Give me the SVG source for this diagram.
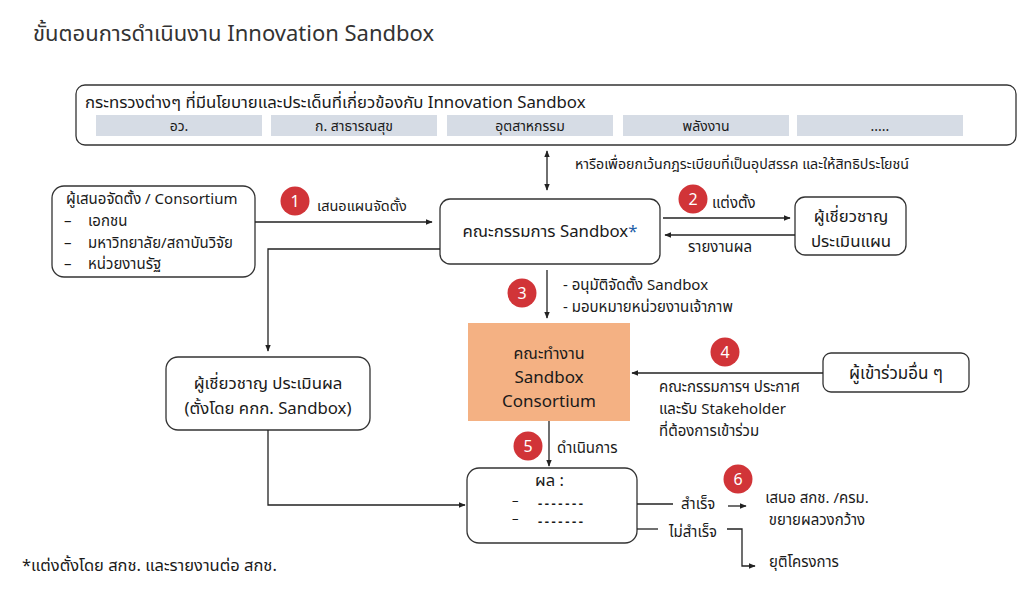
<svg xmlns="http://www.w3.org/2000/svg" width="1024" height="590" viewBox="0 0 1024 590">
<defs>
<marker id="ah" viewBox="0 0 10 10" refX="9" refY="5" markerWidth="7" markerHeight="7" markerUnits="userSpaceOnUse" orient="auto-start-reverse"><path d="M0,1 L10,5 L0,9 z" fill="#222"/></marker>
<style>
text{font-family:"Noto Sans Thai","Noto Sans","Liberation Sans",sans-serif;fill:#1a1a1a;font-size:15px}
.box{fill:#fff;stroke:#333;stroke-width:1.3}
.bar{fill:#d6dce5}
.ln{fill:none;stroke:#222;stroke-width:1.3}
.arr{fill:none;stroke:#222;stroke-width:1.3;marker-end:url(#ah)}
.num circle{fill:#d13438}
.num text{fill:#fff;font-size:16px;text-anchor:middle}
.c{text-anchor:middle}
.big{font-size:17px}
.mid{font-size:16.8px}
.dash{font-weight:bold;letter-spacing:2.6px}
</style>
</defs>
<rect width="1024" height="590" fill="#fff"/>
<text x="33" y="41" style="font-size:22px;fill:#333">ขั้นตอนการดำเนินงาน Innovation Sandbox</text>

<g id="ministries">
<rect class="box" x="76" y="85" width="940" height="60" rx="9"/>
<text x="85" y="108" class="mid">กระทรวงต่างๆ ที่มีนโยบายและประเด็นที่เกี่ยวข้องกับ Innovation Sandbox</text>
<rect class="bar" x="96" y="115" width="166" height="21"/>
<rect class="bar" x="271" y="115" width="166" height="21"/>
<rect class="bar" x="447" y="115" width="166" height="21"/>
<rect class="bar" x="623" y="115" width="166" height="21"/>
<rect class="bar" x="797" y="115" width="166" height="21"/>
<text class="c" x="179" y="131" style="font-size:14px">อว.</text>
<text class="c" x="354" y="131" style="font-size:14px">ก. สาธารณสุข</text>
<text class="c" x="530" y="131" style="font-size:14px">อุตสาหกรรม</text>
<text class="c" x="706" y="131" style="font-size:14px">พลังงาน</text>
<text class="c" x="880" y="131" style="font-size:14px">.....</text>
</g>

<g id="proposer">
<rect class="box" x="52" y="186" width="203" height="91" rx="12"/>
<text x="66" y="204">ผู้เสนอจัดตั้ง / Consortium</text>
<text x="64" y="226">–</text><text x="88" y="226">เอกชน</text>
<text x="64" y="248">–</text><text x="88" y="248">มหาวิทยาลัย/สถาบันวิจัย</text>
<text x="64" y="269">–</text><text x="88" y="269">หน่วยงานรัฐ</text>
</g>

<g id="committee">
<rect class="box" x="440" y="199" width="220" height="65" rx="10"/>
<text class="c mid" x="550" y="237">คณะกรรมการ Sandbox<tspan style="fill:#1f5fa8">*</tspan></text>
</g>

<g id="expert-plan">
<rect class="box" x="795" y="197" width="111" height="58" rx="10"/>
<text class="c mid" x="851" y="222">ผู้เชี่ยวชาญ</text>
<text class="c mid" x="851" y="247">ประเมินแผน</text>
</g>

<g id="expert-eval">
<rect class="box" x="166" y="357" width="204" height="73" rx="12"/>
<text class="c mid" x="268" y="389">ผู้เชี่ยวชาญ ประเมินผล</text>
<text class="c mid" x="268" y="414">(ตั้งโดย คกก. Sandbox)</text>
</g>

<g id="working-group">
<rect x="468" y="323" width="162" height="98" fill="#f4b183"/>
<text class="c" x="549" y="359" style="font-size:16px">คณะทำงาน</text>
<text class="c big" x="549" y="383">Sandbox</text>
<text class="c big" x="549" y="407">Consortium</text>
</g>

<g id="others">
<rect class="box" x="823" y="353" width="146" height="39" rx="8"/>
<text class="c big" x="896" y="379">ผู้เข้าร่วมอื่น ๆ</text>
</g>

<g id="result">
<rect class="box" x="467" y="468" width="170" height="75" rx="12"/>
<text x="535" y="486" style="font-size:16.5px">ผล :</text>
<text x="512" y="505" style="font-size:13px">–<tspan class="dash" x="538" dy="3">-------</tspan></text>
<text x="512" y="523" style="font-size:13px">–<tspan class="dash" x="538" dy="3">-------</tspan></text>
</g>

<g id="connectors">
<path class="arr" d="M547,151 V190" style="marker-start:url(#ah)"/>
<path class="arr" d="M255,222 H432"/>
<path class="arr" d="M663,218 H790"/>
<path class="arr" d="M795,235 H665"/>
<path class="arr" d="M440,249 H268 V351"/>
<path class="arr" d="M547,270 V318"/>
<path class="arr" d="M823,373 H632"/>
<path class="arr" d="M549,421 V466"/>
<path class="arr" d="M268,430 V505 H465"/>
<path class="ln" d="M637,504 H673"/>
<path class="arr" d="M728,506 H746"/>
<path class="ln" d="M637,529 H658"/>
<path class="arr" d="M727,529 H742 V566 H755"/>
</g>

<g id="labels">
<text x="575" y="169" style="font-size:14.2px">หารือเพื่อยกเว้นกฎระเบียบที่เป็นอุปสรรค และให้สิทธิประโยชน์</text>
<text x="317" y="211" style="font-size:14.5px">เสนอแผนจัดตั้ง</text>
<text x="712" y="208">แต่งตั้ง</text>
<text x="688" y="252">รายงานผล</text>
<text x="563" y="290">- อนุมัติจัดตั้ง Sandbox</text>
<text x="563" y="312">- มอบหมายหน่วยงานเจ้าภาพ</text>
<text x="659" y="392">คณะกรรมการฯ ประกาศ</text>
<text x="659" y="414">และรับ Stakeholder</text>
<text x="659" y="436">ที่ต้องการเข้าร่วม</text>
<text x="557" y="453">ดำเนินการ</text>
<text x="681" y="509">สำเร็จ</text>
<text x="669" y="537">ไม่สำเร็จ</text>
<text class="c" x="817" y="503">เสนอ สกช. /ครม.</text>
<text class="c" x="817" y="525">ขยายผลวงกว้าง</text>
<text x="769" y="567">ยุติโครงการ</text>
<text x="22" y="571" style="font-size:16.5px">*แต่งตั้งโดย สกช. และรายงานต่อ สกช.</text>
</g>

<g id="steps" class="num">
<circle cx="295" cy="201" r="14.5"/><text x="295" y="207">1</text>
<circle cx="693" cy="199" r="14.5"/><text x="693" y="205">2</text>
<circle cx="522" cy="293" r="14.5"/><text x="522" y="299">3</text>
<circle cx="725" cy="352" r="14.5"/><text x="725" y="358">4</text>
<circle cx="528" cy="446" r="14.5"/><text x="528" y="452">5</text>
<circle cx="738" cy="479" r="14.5"/><text x="738" y="485">6</text>
</g>
</svg>
